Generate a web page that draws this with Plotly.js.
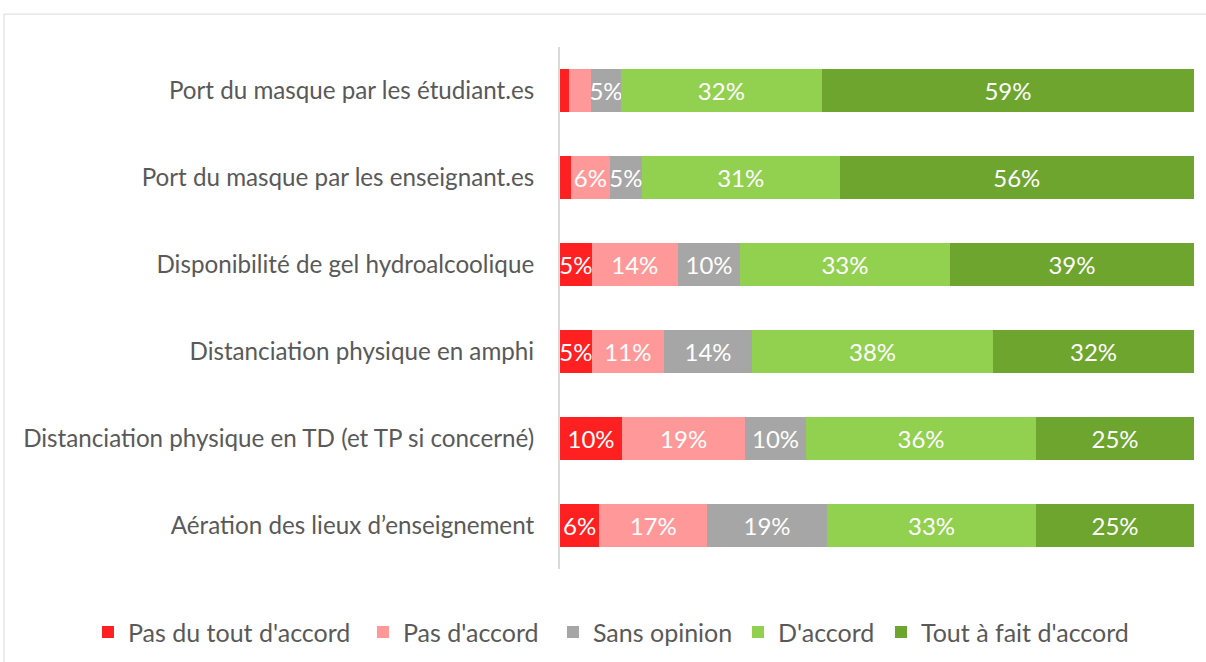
<!DOCTYPE html>
<html><head><meta charset="utf-8">
<script src="https://cdn.plot.ly/plotly-3.0.1.min.js"></script>
<style>html,body{margin:0;padding:0;background:#fff;}#chart{width:1206px;height:662px;}</style>
</head><body><div id="chart"></div>
<script>
const categories = [
  "Port du masque par les étudiant.es",
  "Port du masque par les enseignant.es",
  "Disponibilité de gel hydroalcoolique",
  "Distanciation physique en amphi",
  "Distanciation physique en TD (et TP si concerné)",
  "Aération des lieux d’enseignement"
];
const seriesNames = ["Pas du tout d'accord", "Pas d'accord", "Sans opinion", "D'accord", "Tout à fait d'accord"];
const pasDuTout = [1.4, 1.7, 5.0, 5.0, 9.8, 6.2];
const pasDaccord = [3.5, 6.2, 13.6, 11.4, 19.4, 17.0];
const sansOpinion = [4.7, 5.0, 9.8, 13.9, 9.6, 18.9];
const daccord = [31.7, 31.2, 33.1, 38.0, 36.3, 33.0];
const toutAFait = [58.7, 55.9, 38.5, 31.7, 24.9, 24.9];
const colors = ["#FF2121", "#FF9999", "#A6A6A6", "#92D050", "#6DA52F"];
const legendWidths = [230, 145, 140, 98, 210];
const minLabel = 4.5;
const FONT = "Lato, 'Open Sans', sans-serif";

const series = [pasDuTout, pasDaccord, sansOpinion, daccord, toutAFait];
const traces = series.map((vals, i) => ({
  type: "bar",
  orientation: "h",
  name: seriesNames[i],
  legendwidth: legendWidths[i],
  y: categories,
  x: vals,
  marker: {color: colors[i], line: {width: 0}},
  text: vals.map(v => v >= minLabel ? Math.round(v) + "%" : ""),
  texttemplate: "%{text}",
  textposition: "inside",
  insidetextanchor: "middle",
  textangle: 0,
  constraintext: "none",
  textfont: {family: FONT, size: 24, color: "#FFFFFF"},
  insidetextfont: {family: FONT, size: 24, color: "#FFFFFF"},
  hoverinfo: "skip"
}));

const layout = {
  width: 1206, height: 662,
  barmode: "stack",
  bargap: 0.5,
  margin: {l: 560, r: 12, t: 47, b: 93, autoexpand: false},
  paper_bgcolor: "#FFFFFF",
  plot_bgcolor: "#FFFFFF",
  font: {family: FONT, color: "#595959", size: 24},
  showlegend: true,
  legend: {orientation: "h", x: -0.7445, xanchor: "left",
           y: -0.121, yanchor: "middle", font: {family: FONT, size: 25, color: "#595959"},
           traceorder: "normal", itemwidth: 30},
  xaxis: {range: [0, 100], showgrid: false, zeroline: false, showticklabels: false, ticks: "", showline: false, fixedrange: true},
  yaxis: {autorange: "reversed", showgrid: false, zeroline: false, ticks: "", ticklen: 0,
          showline: true, linecolor: "#D9D9D9", linewidth: 2,
          tickfont: {family: FONT, size: 24.2, color: "#595959"}, ticklabelstandoff: 19},
  shapes: [{type: "rect", xref: "paper", yref: "paper", x0: -0.877, x1: 1.2, y0: -0.4, y1: 1.063,
            line: {color: "#D9D9D9", width: 1}, fillcolor: "rgba(0,0,0,0)", layer: "below"}]
};
Plotly.newPlot("chart", traces, layout, {displayModeBar: false, staticPlot: true});
</script></body></html>
